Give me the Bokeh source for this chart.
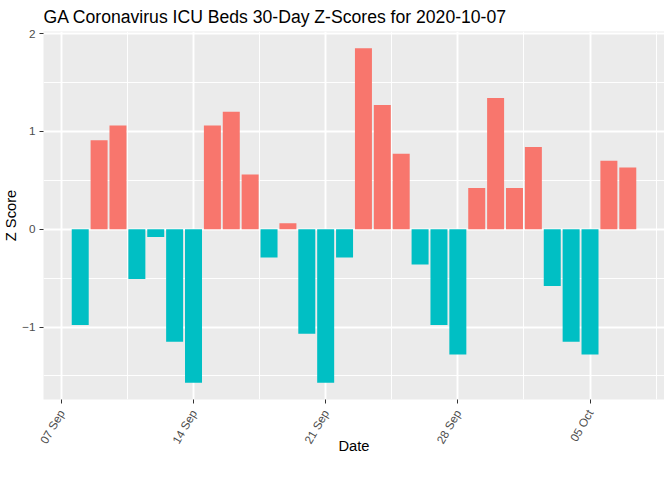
import math
import pandas as pd
from bokeh.plotting import figure
from bokeh.models import ColumnDataSource, FixedTicker, DatetimeTickFormatter, Range1d
from bokeh.embed import file_html
from bokeh.resources import INLINE

# ---- data ----
dates = pd.date_range("2020-09-08", "2020-10-07", freq="D").strftime("%Y-%m-%d").tolist()
z_scores = [-0.98, 0.91, 1.06, -0.51, -0.08, -1.15, -1.57, 1.06, 1.20, 0.56,
            -0.29, 0.06, -1.07, -1.57, -0.29, 1.85, 1.27, 0.77, -0.36, -0.98,
            -1.28, 0.42, 1.34, 0.42, 0.84, -0.58, -1.15, -1.28, 0.70, 0.63]
tick_dates = ["2020-09-07", "2020-09-14", "2020-09-21", "2020-09-28", "2020-10-05"]
y_ticks = [-1, 0, 1, 2]
y_minor = [-1.5, -0.5, 0.5, 1.5]
title_text = "GA Coronavirus ICU Beds 30-Day Z-Scores for 2020-10-07"
x_title = "Date"
y_title = "Z Score"

POS = "#F8766D"
NEG = "#00BFC4"
FONT = "Liberation Sans"

DAY = 86400000.0
x = pd.to_datetime(dates)
colors = [POS if v > 0 else NEG for v in z_scores]
src = ColumnDataSource(dict(x=x, top=z_scores, color=colors))

xs_ms = [t.value / 1e6 for t in x]
lo, hi = min(xs_ms) - 0.45 * DAY, max(xs_ms) + 0.45 * DAY
xpad = (hi - lo) * 0.05
ymin, ymax = min(z_scores + [0]), max(z_scores + [0])
ypad = (ymax - ymin) * 0.05
x0, x1 = lo - xpad, hi + xpad
y0, y1 = ymin - ypad, ymax + ypad

p = figure(frame_width=621, height=464, x_axis_type="datetime",
           output_backend="svg", toolbar_location=None,
           x_range=Range1d(x0, x1), y_range=Range1d(y0, y1),
           min_border=0,
           min_border_left=35, min_border_right=0, min_border_top=24,
           min_border_bottom=65, title=title_text)

p.vbar(x="x", top="top", bottom=0, width=0.9 * DAY, color="color",
       line_color=None, source=src)

# ---- styling (ggplot grey theme) ----
p.background_fill_color = "#EBEBEB"
p.border_fill_color = "white"
p.outline_line_color = None

p.title.text_font = FONT
p.title.text_font_size = "17.6px"
p.title.text_font_style = "normal"
p.title.text_color = "black"
p.title.align = "left"
p.title.standoff = 9

tick_ms = [pd.Timestamp(d).value / 1e6 for d in tick_dates]
minor_ms = [t + 3.5 * DAY for t in [tick_ms[0] - 7 * DAY] + tick_ms]
p.xaxis.ticker = FixedTicker(ticks=tick_ms, minor_ticks=minor_ms)
p.xaxis.formatter = DatetimeTickFormatter(days="%d %b", months="%d %b")
p.yaxis.ticker = FixedTicker(ticks=y_ticks, minor_ticks=y_minor)

for ax in (p.xaxis, p.yaxis):
    ax.axis_line_color = None
    ax.major_tick_line_color = "#333333"
    ax.major_tick_line_width = 1
    ax.major_tick_in = 0
    ax.major_tick_out = 4
    ax.minor_tick_line_color = None
    ax.major_label_text_font = FONT
    ax.major_label_text_font_size = "11.7px"
    ax.major_label_text_color = "#4D4D4D"
    ax.axis_label_text_font = FONT
    ax.axis_label_text_font_size = "14.7px"
    ax.axis_label_text_font_style = "normal"
    ax.axis_label_text_color = "black"

p.yaxis.major_label_text_line_height = 1.0
p.yaxis.axis_label_text_line_height = 1.0
p.xaxis.major_label_text_line_height = 0.3
p.xaxis.axis_label_text_line_height = 0.3

p.xaxis.axis_label = x_title
p.yaxis.axis_label = y_title
p.xaxis.major_label_orientation = math.pi / 3
p.xaxis.major_label_standoff = 7
p.xaxis.axis_label_standoff = -14
p.yaxis.major_label_standoff = 4
p.yaxis.axis_label_standoff = 0

for g in (p.xgrid, p.ygrid):
    g.grid_line_color = "white"
    g.grid_line_width = 1.9
    g.minor_grid_line_color = "white"
    g.minor_grid_line_width = 0.95

open("out.html", "w").write(file_html(p, INLINE))
